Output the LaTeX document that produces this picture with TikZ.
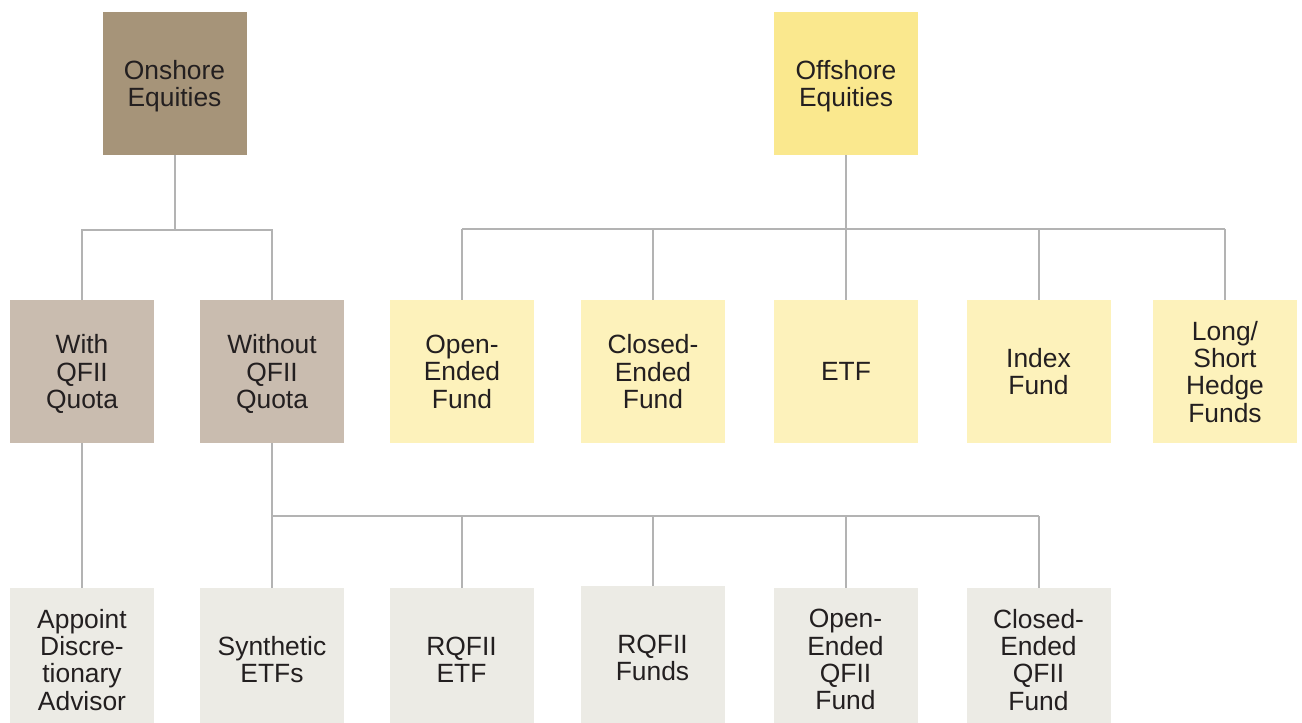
\documentclass[tikz,border=0pt]{standalone}
\usepackage{fontspec}
\setmainfont{Liberation Sans}
\usepackage{xcolor}
\usetikzlibrary{positioning}

\definecolor{onshoreDark}{HTML}{A69479}
\definecolor{onshoreLight}{HTML}{C9BCAF}
\definecolor{offshoreDark}{HTML}{FAE88E}
\definecolor{offshoreLight}{HTML}{FDF2BB}
\definecolor{leafGray}{HTML}{ECEBE5}
\definecolor{lineGray}{HTML}{B3B3B3}
\definecolor{textDark}{HTML}{231F20}

\tikzset{
  box/.style={rectangle, inner sep=0pt, minimum width=72pt, minimum height=71.5pt,
    align=center, text depth=0pt, text=textDark},
  link/.style={draw=lineGray, line width=1pt}
}

\begin{document}
\begin{tikzpicture}[x=0.5pt, y=-0.5pt, font=\fontsize{13.2}{13.65}\selectfont]
  \useasboundingbox (0,0) rectangle (1302,723);
  \clip (0,0) rectangle (1302,723);
  \def\Ya{83.5}   % top row
  \def\Yb{371.5}  % middle row
  \def\Yc{659.5}  % bottom row
  \def\Yon{230}
  \def\Yoff{229}
  \def\Ysub{516}

  % onshore side
  \node[box, fill=onshoreDark]  (onshore)  at (174.5, \Ya) {Onshore\\Equities};
  \node[box, fill=onshoreLight] (with)     at (82, \Yb)    {With\\QFII\\Quota};
  \node[box, fill=onshoreLight] (without)  at (272, \Yb)   {Without\\QFII\\Quota};

  % offshore side
  \node[box, fill=offshoreDark]  (offshore)   at (846, \Ya)    {Offshore\\Equities};
  \node[box, fill=offshoreLight] (openfund)   at (462, \Yb)    {Open-\\Ended\\Fund};
  \node[box, fill=offshoreLight] (closedfund) at (653, \Yb)    {Closed-\\Ended\\Fund};
  \node[box, fill=offshoreLight] (etf)        at (846, \Yb)    {ETF};
  \node[box, fill=offshoreLight] (indexfund)  at (1038.5, \Yb) {Index\\Fund};
  \node[box, fill=offshoreLight] (longshort)  at (1225, \Yb)   {Long/\\Short\\Hedge\\Funds};

  % bottom row
  \node[box, fill=leafGray] (appoint)    at (82, \Yc)        {Appoint\\Discre-\\tionary\\Advisor};
  \node[box, fill=leafGray] (synthetic)  at (272, \Yc)       {Synthetic\\ETFs};
  \node[box, fill=leafGray] (rqfiietf)   at (461.5, \Yc)     {RQFII\\ETF};
  \node[box, fill=leafGray] (rqfiifunds) at (652.5, \Yc-2)   {RQFII\\Funds};
  \node[box, fill=leafGray] (openqfii)   at (845.5, \Yc)     {Open-\\Ended\\QFII\\Fund};
  \node[box, fill=leafGray] (closedqfii) at (1038.5, \Yc)    {Closed-\\Ended\\QFII\\Fund};

  % onshore -> with / without
  \coordinate (onbus) at (0, \Yon);
  \draw[link] (onshore.south) -- (onshore.south |- onbus);
  \draw[link] (with.north) -- (with.north |- onbus) -- (without.north |- onbus) -- (without.north);

  % offshore -> funds
  \coordinate (offbus) at (0, \Yoff);
  \draw[link] (offshore.south) -- (offshore.south |- offbus);
  \draw[link] (openfund.north |- offbus) -- (longshort.north |- offbus);
  \foreach \n in {openfund, closedfund, etf, indexfund, longshort}
    \draw[link] (\n.north) -- (\n.north |- offbus);

  % with -> advisor
  \draw[link] (with.south) -- (appoint.north);

  % without -> products
  \coordinate (subbus) at (0, \Ysub);
  \draw[link] (without.south) -- (synthetic.north);
  \draw[link] (synthetic.north |- subbus) -- (closedqfii.north |- subbus);
  \foreach \n in {rqfiietf, rqfiifunds, openqfii, closedqfii}
    \draw[link] (\n.north) -- (\n.north |- subbus);

\end{tikzpicture}
\end{document}
